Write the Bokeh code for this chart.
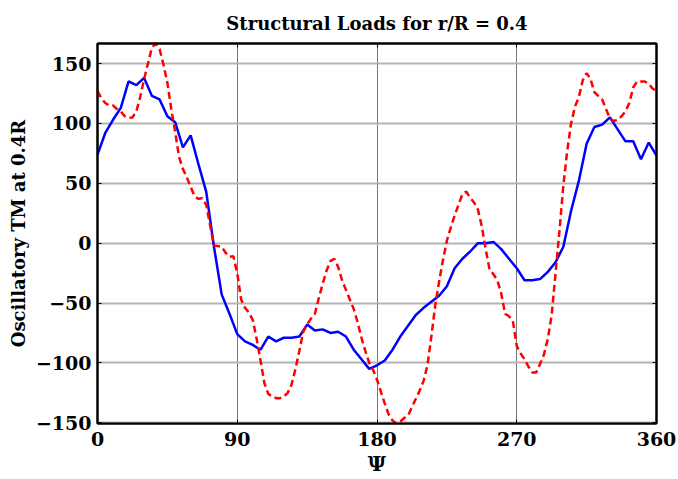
import numpy as np
from bokeh.plotting import figure
from bokeh.models import Range1d, FixedTicker, LinearAxis
from bokeh.embed import file_html
from bokeh.resources import INLINE

# ---- data ----
psi_blue = list(range(0, 361, 5))
tm_blue = [74, 92, 103, 113, 135, 132, 138, 123, 120, 106,
           101, 80, 90, 66, 43, -3, -43, -59, -76, -82,
           -85, -89, -78, -82, -79, -79, -78, -68, -73, -72,
           -75, -74, -78, -89, -97, -105, -102, -98, -89, -78,
           -69, -60, -54, -49, -44, -36, -21, -13, -7, 0,
           0, 1, -5, -13, -21, -31, -31, -30, -24, -16,
           -3, 27, 52, 83, 97, 99, 105, 95, 85, 85,
           70, 84, 73]

psi_red = [i * 2.5 for i in range(145)]
tm_red = [127, 121, 117, 115, 115, 112, 110, 106, 104.5, 105,
          110, 122, 137, 150, 163, 166.7, 162, 149, 134, 112,
          93, 72, 62, 55, 47, 39, 37, 37.5, 32, 15,
          -2, -2.5, -3, -8, -11.5, -11, -25, -47, -54, -58,
          -64, -80, -98, -117, -126, -128, -129.5, -129.5, -128, -125,
          -118, -105, -90, -74, -68, -63, -59, -46, -34, -23,
          -15, -13, -20, -31, -39, -47, -55, -66, -79, -90,
          -100, -106, -114, -124, -134, -143, -148, -150.5, -149, -146,
          -144, -137, -130, -123, -115, -102, -78, -52, -32, -14,
          2, 13, 23, 32, 41, 43, 38, 34, 28, 14,
          -5, -22, -26, -31, -42, -59, -61, -65, -86, -92,
          -97, -103, -108, -108, -101, -93, -80, -60, -25, 10,
          48, 77, 100, 114, 122, 136, 142, 137, 126, 123,
          120, 112, 104, 102, 103, 106, 110, 117, 130, 135,
          135, 135, 133, 129, 127]

x_ticks = [0, 90, 180, 270, 360]
y_ticks = [-150, -100, -50, 0, 50, 100, 150]

FONT = "DejaVu Serif"

p = figure(width=678, height=479, output_backend="svg", toolbar_location=None,
           x_range=Range1d(0, 360), y_range=Range1d(-150.6, 166.7),
           title="Structural Loads for r/R = 0.4",
           min_border_left=97, min_border_right=22, min_border_bottom=56,
           min_border_top=0)

p.title.align = "center"
p.title.text_font = FONT
p.title.text_font_style = "bold"
p.title.text_font_size = "18px"
p.title.text_color = "black"
p.title.standoff = 20

p.background_fill_color = "white"
p.border_fill_color = "white"
p.outline_line_color = "black"
p.outline_line_width = 2

# grids
p.xgrid.ticker = FixedTicker(ticks=x_ticks)
p.ygrid.ticker = FixedTicker(ticks=y_ticks)
p.xgrid.grid_line_color = "#777777"
p.xgrid.grid_line_width = 1
p.ygrid.grid_line_color = "#b4b4b4"
p.ygrid.grid_line_width = 2

for ax in (p.xaxis[0], p.yaxis[0]):
    ax.axis_line_color = "black"
    ax.axis_line_width = 2
    ax.major_tick_in = 4
    ax.major_tick_out = 0
    ax.minor_tick_line_color = None
    ax.major_label_text_font = FONT
    ax.major_label_text_font_style = "bold"
    ax.major_label_text_font_size = "19px"
    ax.major_label_text_color = "black"
    ax.axis_label_text_font = FONT
    ax.axis_label_text_font_style = "bold"
    ax.axis_label_text_color = "black"

p.xaxis.ticker = FixedTicker(ticks=x_ticks)
p.yaxis.ticker = FixedTicker(ticks=y_ticks)
p.xaxis.axis_label = "Ψ"
p.xaxis.axis_label_text_font_size = "20px"
p.xaxis.major_label_standoff = 8
p.xaxis.axis_label_standoff = 3
p.yaxis.axis_label = "Oscillatory TM at 0.4R"
p.yaxis.axis_label_text_font_size = "18px"
p.yaxis.major_label_standoff = 6
p.yaxis.axis_label_standoff = 4

# top / right box axes with inward ticks
top = LinearAxis(ticker=FixedTicker(ticks=x_ticks), major_label_text_color=None,
                 major_tick_in=4, major_tick_out=0, minor_tick_line_color=None,
                 axis_line_color="black", axis_line_width=2, major_label_text_font_size="1px")
right = LinearAxis(ticker=FixedTicker(ticks=y_ticks), major_label_text_color=None,
                   major_tick_in=4, major_tick_out=0, minor_tick_line_color=None,
                   axis_line_color="black", axis_line_width=2, major_label_text_font_size="1px")
p.add_layout(top, "above")
p.add_layout(right, "right")

p.line(psi_blue, tm_blue, line_color="#0000ff", line_width=2.5)
p.line(psi_red, tm_red, line_color="#ff0000", line_width=2.5, line_dash="7 4")

open("out.html", "w").write(file_html(p, INLINE))
